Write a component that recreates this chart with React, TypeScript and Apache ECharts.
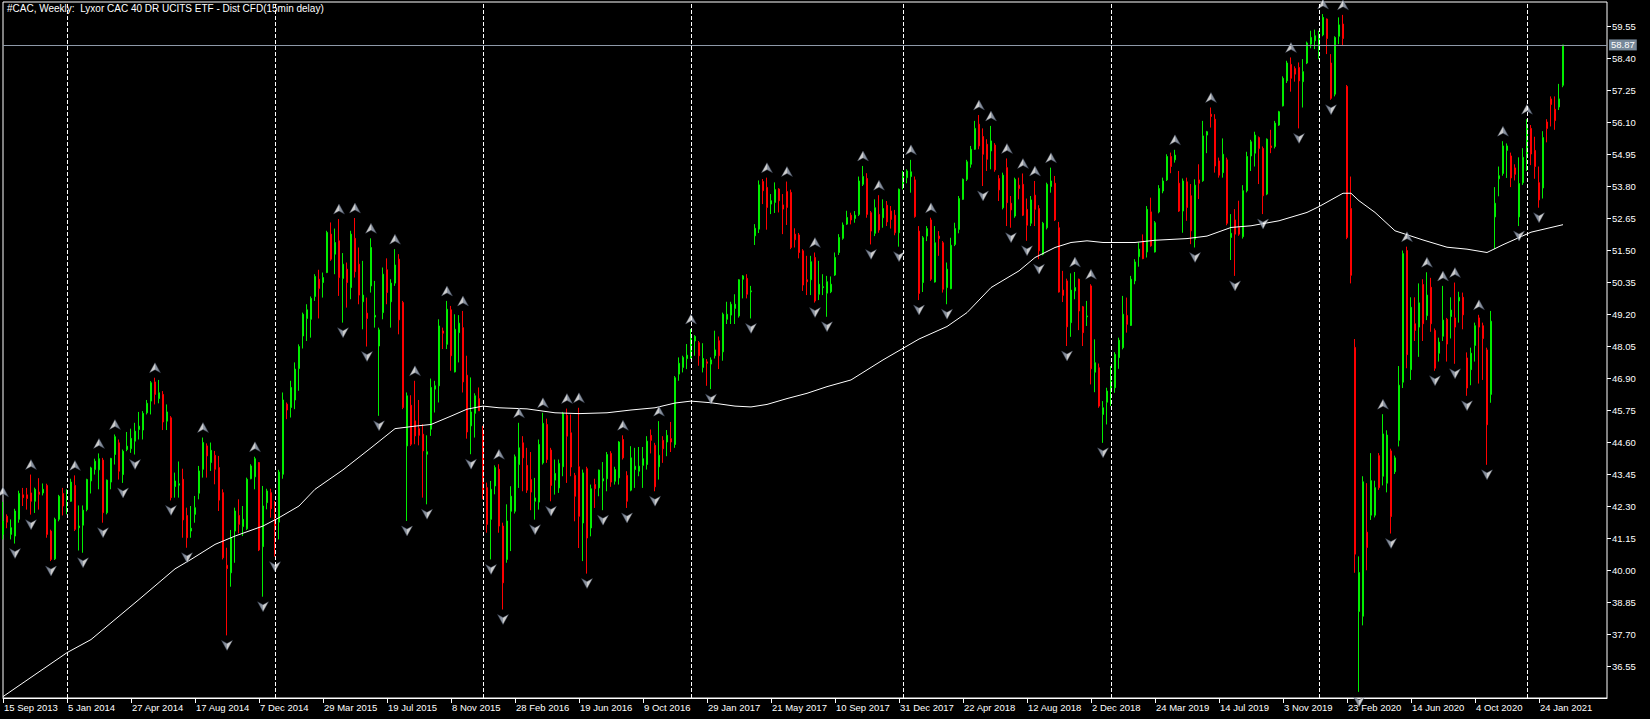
import React, { useEffect, useRef } from 'react';
import * as echarts from 'echarts';

const TITLE = '#CAC, Weekly:  Lyxor CAC 40 DR UCITS ETF - Dist CFD(15min delay)';
const FIRST_WEEK = [2013, 9, 15];
const FUTURE_WEEKS = 11;
const LABEL_EVERY = 16;
const MONTHS = ['Jan', 'Feb', 'Mar', 'Apr', 'May', 'Jun', 'Jul', 'Aug', 'Sep', 'Oct', 'Nov', 'Dec'];

const OPEN = [
  41.28, 41.93, 41.28, 41.22, 41.82, 42.7, 42.7, 42.77, 42.47, 42.8,
  42.77, 43.04, 41.4, 40.4, 41.82, 42.75, 42.3, 42.47, 43.04, 41.52,
  41.61, 42.17, 43.2, 43.61, 43.6, 43.95, 42.06, 43.16, 44.15, 44.57,
  43.43, 44.33, 44.36, 44.63, 45.05, 45.03, 45.65, 46.07, 46.76, 46.16,
  46.31, 45.35, 45.47, 43.0, 43.05, 43.26, 41.96, 41.4, 42.0, 42.76,
  43.62, 44.46, 43.86, 44.12, 43.68, 42.78, 40.17, 39.9, 41.4, 41.96,
  41.56, 41.48, 43.28, 43.35, 43.86, 40.84, 42.42, 42.78, 41.82, 41.72,
  43.44, 45.96, 45.84, 46.11, 47.24, 48.41, 49.04, 49.01, 49.83, 50.45,
  50.33, 50.69, 52.07, 51.35, 51.83, 50.48, 50.81, 50.15, 51.92, 50.99,
  49.64, 49.23, 50.21, 49.09, 48.05, 49.25, 50.79, 49.64, 50.31, 51.17,
  49.61, 44.46, 45.92, 45.36, 45.08, 44.88, 44.16, 45.06, 46.5, 46.62,
  48.59, 48.11, 49.35, 47.12, 48.53, 48.71, 47.0, 45.18, 45.63, 46.16,
  45.03, 42.96, 41.82, 43.02, 43.62, 41.58, 40.38, 42.11, 42.11, 43.79,
  44.57, 43.76, 43.25, 42.47, 42.44, 43.85, 45.23, 44.31, 43.23, 42.95,
  43.71, 45.56, 44.93, 43.4, 43.71, 41.69, 43.64, 41.51, 43.07, 42.95,
  43.2, 43.28, 44.19, 43.19, 43.31, 44.69, 43.4, 42.87, 43.61, 43.55,
  43.76, 43.79, 44.84, 44.48, 43.71, 44.66, 44.6, 44.72, 44.51, 47.04,
  47.28, 47.6, 47.64, 48.23, 48.17, 47.28, 47.48, 47.4, 47.7, 48.24,
  47.84, 49.01, 49.16, 49.4, 49.13, 50.45, 50.48, 50.0, 52.01, 52.25,
  53.96, 53.75, 53.15, 53.21, 53.69, 53.12, 53.6, 53.57, 52.07, 52.04,
  51.47, 50.43, 50.43, 51.23, 49.91, 50.15, 49.95, 50.0, 50.6, 51.41,
  51.92, 52.43, 52.75, 52.63, 52.78, 53.86, 54.07, 52.84, 52.1, 52.78,
  52.66, 53.11, 52.9, 52.75, 52.12, 53.78, 54.1, 54.14, 54.02, 52.18,
  50.33, 52.0, 52.58, 50.35, 52.0, 51.76, 50.15, 50.11, 51.7, 52.24,
  53.32, 54.04, 54.58, 55.12, 56.02, 55.58, 55.3, 55.06, 55.27, 54.07,
  53.02, 54.46, 53.18, 52.72, 53.83, 53.86, 52.96, 52.46, 53.47, 52.99,
  51.35, 52.3, 53.78, 53.9, 52.3, 50.06, 50.39, 48.89, 50.03, 50.45,
  49.46, 49.1, 50.21, 47.11, 47.27, 45.59, 46.03, 46.51, 46.55, 47.63,
  47.99, 49.15, 48.79, 50.39, 51.26, 51.83, 51.43, 52.87, 51.43, 52.87,
  53.62, 54.02, 54.86, 54.74, 53.9, 52.9, 53.95, 53.45, 51.89, 54.02,
  53.99, 55.63, 56.38, 56.2, 54.7, 54.28, 54.74, 51.95, 52.58, 52.31,
  51.98, 53.63, 54.88, 54.98, 55.54, 55.15, 53.51, 55.24, 55.22, 55.99,
  56.68, 57.58, 58.17, 58.02, 58.06, 57.55, 58.22, 58.9, 59.02, 58.84,
  59.23, 59.8, 58.22, 57.1, 59.18, 59.62, 57.38, 52.99, 48.0, 38.51,
  38.34, 41.36, 41.97, 41.97, 44.11, 43.37, 43.12, 44.28, 43.53, 44.66,
  46.75, 51.48, 47.2, 48.85, 48.73, 50.26, 49.14, 50.16, 48.61, 47.79,
  48.4, 49.01, 49.11, 49.06, 49.67, 49.8, 47.62, 47.2, 48.07, 49.06,
  48.78, 47.91, 46.31, 52.69, 54.06, 54.25, 55.08, 54.88, 54.45, 52.69,
  53.92, 54.83, 55.87, 55.08, 53.92, 53.73, 56.1, 56.93, 56.56, 56.64,
  57.42,
];

const HIGH = [
  42.45, 42.0, 41.82, 42.2, 42.85, 42.95, 42.95, 43.43, 42.96, 43.3,
  43.11, 43.1, 41.45, 41.88, 42.7, 42.95, 42.9, 43.28, 43.4, 42.32,
  42.32, 43.28, 43.71, 44.0, 44.19, 44.03, 43.25, 44.03, 44.87, 44.69,
  44.33, 44.96, 45.08, 45.29, 45.68, 45.71, 46.11, 46.79, 46.91, 46.83,
  46.43, 45.95, 45.53, 43.5, 43.9, 43.64, 42.24, 42.3, 42.66, 43.74,
  44.76, 44.55, 44.58, 44.28, 44.1, 42.9, 40.8, 41.44, 42.24, 42.54,
  42.3, 43.32, 43.8, 44.07, 43.88, 43.02, 42.92, 42.92, 42.48, 43.6,
  46.38, 46.02, 46.8, 47.46, 48.11, 49.25, 49.55, 49.83, 50.63, 50.79,
  50.69, 52.19, 52.49, 52.27, 52.61, 51.39, 51.05, 52.19, 52.65, 51.59,
  51.11, 49.79, 51.92, 50.39, 48.71, 50.87, 51.2, 50.45, 51.53, 51.35,
  49.67, 46.38, 46.28, 46.8, 46.11, 45.24, 44.84, 46.88, 46.8, 49.01,
  48.71, 49.67, 49.49, 49.19, 49.16, 49.31, 47.7, 46.92, 46.35, 46.56,
  45.18, 43.14, 43.2, 43.76, 43.8, 41.7, 42.36, 43.01, 44.15, 45.29,
  44.81, 44.39, 44.24, 43.31, 44.69, 45.65, 45.44, 44.39, 43.97, 43.97,
  45.68, 45.8, 45.59, 43.49, 45.83, 43.61, 43.71, 43.07, 43.28, 43.61,
  43.88, 44.24, 44.27, 43.71, 44.63, 44.84, 43.55, 44.45, 44.39, 44.42,
  44.42, 44.81, 45.05, 44.57, 45.35, 44.81, 45.03, 45.32, 46.97, 47.64,
  47.7, 48.12, 48.66, 48.44, 48.23, 48.15, 47.58, 47.64, 48.6, 48.39,
  49.25, 49.64, 49.64, 49.91, 50.45, 50.6, 50.63, 50.21, 52.43, 54.0,
  54.05, 54.1, 53.51, 53.93, 53.72, 53.51, 53.96, 53.67, 52.28, 52.11,
  51.53, 51.29, 51.29, 51.41, 51.11, 50.63, 50.57, 50.55, 51.41, 52.07,
  52.49, 52.91, 52.84, 52.9, 54.14, 54.52, 54.26, 52.9, 53.32, 53.47,
  53.32, 53.26, 53.08, 52.94, 53.71, 54.34, 54.4, 54.74, 54.14, 52.36,
  52.0, 52.36, 52.66, 52.36, 52.18, 51.82, 51.05, 51.94, 52.48, 53.44,
  54.07, 54.74, 55.24, 56.14, 56.35, 55.87, 55.48, 55.96, 55.34, 54.19,
  54.28, 54.79, 53.44, 54.1, 54.1, 54.25, 53.35, 53.44, 53.98, 53.11,
  52.51, 53.92, 54.46, 54.16, 52.51, 50.75, 50.47, 50.66, 50.71, 50.47,
  49.49, 49.67, 50.27, 48.29, 47.42, 46.07, 46.55, 47.33, 47.83, 48.35,
  49.85, 49.79, 50.57, 51.17, 51.77, 52.06, 53.08, 53.38, 52.54, 53.83,
  54.1, 54.94, 55.0, 55.1, 54.34, 54.07, 54.1, 53.87, 54.04, 54.58,
  56.14, 55.78, 56.62, 56.38, 54.82, 55.51, 54.82, 52.79, 52.97, 53.27,
  53.83, 55.03, 55.46, 55.75, 55.58, 55.22, 55.51, 55.82, 56.14, 56.5,
  57.74, 58.3, 58.42, 58.1, 58.24, 58.36, 58.99, 59.38, 59.42, 59.38,
  59.98, 59.82, 58.54, 59.18, 59.86, 59.95, 57.43, 54.14, 48.3, 40.49,
  43.37, 43.12, 44.2, 43.21, 44.2, 45.6, 45.02, 44.36, 44.11, 47.33,
  51.48, 51.62, 49.8, 49.8, 50.3, 50.45, 50.7, 50.5, 48.68, 48.35,
  50.21, 49.06, 49.8, 50.33, 50.0, 49.97, 47.82, 47.99, 48.89, 49.17,
  48.89, 47.99, 49.31, 53.76, 54.5, 55.41, 55.33, 55.0, 54.58, 54.83,
  55.16, 56.2, 55.99, 55.57, 54.5, 55.77, 56.2, 57.02, 57.02, 57.47,
  58.87,
];

const LOW = [
  41.1, 41.5, 41.1, 40.95, 41.7, 42.3, 42.17, 41.99, 42.05, 42.17,
  42.68, 41.16, 40.32, 40.36, 41.75, 41.96, 42.0, 42.45, 41.4, 40.7,
  40.62, 42.11, 42.75, 43.43, 42.9, 41.7, 42.0, 42.9, 43.79, 43.25,
  43.13, 44.27, 44.21, 44.15, 44.69, 44.69, 45.59, 45.59, 45.95, 45.99,
  45.03, 45.03, 42.5, 42.6, 42.6, 41.16, 40.8, 41.16, 41.7, 42.54,
  43.32, 43.32, 43.56, 43.08, 42.12, 40.38, 37.65, 39.4, 40.26, 41.32,
  41.22, 41.44, 43.26, 42.9, 40.68, 39.04, 42.18, 41.88, 40.48, 41.1,
  43.28, 45.42, 45.48, 45.78, 46.44, 47.96, 48.23, 48.35, 49.67, 49.04,
  49.79, 50.67, 51.11, 50.63, 49.85, 48.89, 49.43, 49.73, 50.51, 49.55,
  48.65, 48.03, 49.97, 48.71, 45.54, 49.01, 49.55, 48.71, 50.21, 48.47,
  45.78, 41.76, 44.46, 44.52, 44.48, 42.6, 42.36, 44.82, 45.66, 46.02,
  47.94, 47.94, 47.16, 47.1, 47.46, 46.38, 44.72, 44.16, 44.76, 45.72,
  42.54, 41.34, 40.38, 42.72, 41.34, 38.58, 40.26, 40.68, 42.03, 42.95,
  42.83, 42.77, 42.15, 41.81, 42.17, 43.79, 43.85, 42.47, 42.71, 42.77,
  43.37, 43.13, 43.37, 41.75, 40.79, 40.32, 39.87, 41.21, 42.23, 42.65,
  42.15, 42.83, 42.99, 43.07, 43.07, 43.97, 42.23, 42.83, 42.95, 43.37,
  42.95, 43.61, 44.19, 42.83, 43.25, 43.85, 44.09, 44.24, 44.39, 46.8,
  47.1, 47.22, 47.58, 47.7, 47.34, 47.1, 46.62, 46.5, 47.6, 47.22,
  47.52, 48.84, 48.84, 48.84, 49.07, 49.76, 49.76, 49.04, 51.68, 52.11,
  53.15, 52.23, 52.79, 52.83, 52.85, 52.07, 52.4, 51.53, 51.59, 51.2,
  50.03, 49.88, 49.88, 49.61, 49.7, 49.88, 49.1, 49.95, 50.57, 51.32,
  51.87, 52.4, 52.42, 52.48, 52.72, 53.8, 52.66, 51.7, 52.0, 52.12,
  52.3, 52.36, 52.27, 52.03, 51.62, 53.68, 53.9, 53.56, 52.66, 49.7,
  49.99, 51.82, 50.39, 50.33, 51.29, 49.97, 49.55, 50.09, 51.64, 52.1,
  53.3, 53.98, 54.46, 55.1, 55.12, 53.8, 54.34, 54.4, 54.31, 53.26,
  52.96, 52.36, 52.3, 52.66, 53.32, 52.72, 51.83, 52.36, 52.36, 51.17,
  51.31, 52.24, 53.56, 52.54, 49.97, 49.63, 48.05, 48.38, 49.73, 48.62,
  48.05, 48.77, 46.67, 46.39, 45.83, 44.57, 45.23, 45.89, 46.37, 47.23,
  47.93, 48.53, 48.77, 50.27, 50.9, 51.17, 51.23, 51.62, 51.41, 52.82,
  53.54, 53.98, 54.26, 54.64, 52.87, 52.12, 52.55, 51.71, 51.59, 53.33,
  53.95, 54.98, 55.9, 54.28, 54.1, 54.1, 52.39, 51.14, 50.57, 52.01,
  51.91, 53.57, 54.34, 54.5, 53.87, 52.79, 53.47, 54.98, 55.15, 55.96,
  56.66, 57.5, 57.19, 57.55, 55.87, 56.62, 58.18, 58.75, 58.72, 58.36,
  59.18, 58.54, 56.9, 57.02, 58.9, 58.84, 51.89, 50.3, 39.9, 35.62,
  38.01, 39.99, 41.8, 41.89, 42.88, 43.04, 42.79, 41.31, 43.45, 44.44,
  46.54, 47.25, 46.83, 48.23, 47.66, 48.23, 48.98, 48.56, 47.16, 47.49,
  48.23, 47.49, 48.32, 47.41, 48.89, 48.65, 46.26, 46.64, 47.49, 46.7,
  46.83, 43.78, 46.01, 51.53, 53.43, 54.17, 54.09, 53.76, 54.0, 52.36,
  53.84, 54.34, 54.55, 54.06, 53.02, 53.35, 55.37, 55.94, 55.82, 56.53,
  57.35,
];

const CLOSE = [
  41.76, 41.72, 41.52, 42.12, 42.75, 42.6, 42.57, 42.47, 42.9, 42.72,
  42.9, 41.28, 40.38, 41.82, 42.65, 42.3, 42.4, 43.16, 41.46, 41.58,
  42.15, 43.25, 43.67, 43.91, 44.0, 42.06, 43.23, 44.01, 44.79, 43.55,
  44.27, 44.45, 44.73, 44.99, 45.17, 45.63, 45.99, 46.73, 46.31, 46.37,
  45.32, 45.68, 42.6, 43.2, 43.1, 41.8, 41.16, 41.5, 42.24, 43.56,
  44.58, 44.1, 44.3, 43.62, 42.51, 40.44, 40.05, 41.16, 42.12, 41.64,
  41.82, 43.26, 43.74, 44.0, 40.72, 42.3, 42.84, 42.2, 41.44, 43.52,
  46.11, 45.75, 46.56, 47.22, 48.03, 49.19, 49.35, 49.76, 50.55, 50.12,
  50.51, 52.13, 51.17, 51.77, 50.51, 50.99, 50.33, 52.07, 50.72, 49.88,
  49.88, 49.04, 51.59, 49.15, 48.63, 50.63, 49.97, 50.31, 50.96, 48.99,
  45.84, 46.26, 44.52, 44.82, 44.84, 44.28, 44.25, 46.56, 46.62, 48.77,
  48.51, 49.37, 47.7, 48.65, 48.87, 46.76, 44.96, 45.68, 46.26, 45.72,
  42.84, 41.64, 42.9, 43.68, 41.58, 39.54, 41.76, 42.65, 44.07, 44.39,
  44.03, 42.87, 42.8, 42.59, 44.51, 45.27, 43.97, 43.04, 43.47, 43.83,
  45.63, 44.81, 43.7, 42.65, 41.93, 43.49, 41.15, 42.92, 42.92, 43.59,
  43.28, 44.15, 43.16, 43.61, 44.6, 44.03, 42.47, 44.03, 43.73, 43.73,
  44.0, 44.63, 44.66, 42.99, 44.12, 44.36, 44.84, 44.6, 46.91, 47.43,
  47.64, 47.72, 48.32, 48.39, 47.7, 47.6, 47.43, 47.55, 47.91, 47.7,
  49.19, 49.19, 49.55, 49.55, 50.43, 50.57, 49.91, 50.03, 52.28, 53.84,
  53.63, 53.03, 53.27, 53.67, 53.27, 52.97, 53.03, 51.59, 51.87, 51.41,
  50.24, 50.36, 51.08, 49.67, 50.27, 50.18, 50.36, 50.27, 51.23, 51.95,
  52.4, 52.67, 52.58, 52.75, 53.98, 54.14, 52.78, 52.18, 53.02, 52.22,
  52.99, 52.51, 52.6, 52.12, 53.68, 54.14, 54.34, 54.31, 52.7, 49.94,
  51.94, 52.27, 50.45, 51.76, 51.91, 50.09, 50.81, 51.67, 52.27, 53.35,
  54.04, 54.67, 55.12, 55.87, 55.24, 54.94, 54.76, 55.42, 54.38, 53.66,
  54.19, 53.2, 52.94, 54.04, 53.71, 52.75, 52.39, 53.3, 52.96, 51.47,
  52.46, 53.86, 53.98, 52.58, 49.99, 49.87, 48.74, 50.06, 50.15, 49.31,
  48.53, 49.13, 47.23, 47.45, 45.89, 45.83, 46.43, 46.79, 47.75, 48.26,
  49.19, 48.83, 50.45, 51.07, 51.53, 51.19, 52.96, 51.65, 52.48, 53.71,
  53.98, 54.86, 54.5, 54.91, 52.9, 53.98, 53.03, 52.19, 53.83, 53.9,
  55.6, 55.75, 56.3, 54.52, 54.19, 54.94, 52.46, 52.1, 52.07, 52.07,
  53.63, 54.86, 55.39, 55.63, 55.15, 53.45, 55.48, 55.18, 56.06, 56.47,
  57.67, 58.22, 57.67, 57.82, 57.58, 57.91, 58.94, 59.14, 59.2, 59.26,
  59.86, 59.1, 56.95, 59.14, 59.59, 59.1, 51.95, 50.59, 40.57, 39.91,
  43.17, 40.81, 43.21, 42.96, 42.96, 44.89, 44.85, 41.92, 44.03, 46.64,
  51.37, 47.74, 49.44, 48.61, 49.6, 48.85, 49.88, 48.85, 47.25, 48.19,
  48.98, 48.12, 49.34, 48.73, 49.8, 49.17, 46.54, 47.79, 48.78, 48.73,
  48.32, 45.22, 48.94, 53.18, 54.17, 55.24, 55.24, 54.09, 54.22, 53.89,
  54.83, 55.99, 54.95, 54.5, 53.3, 55.54, 55.87, 56.73, 56.15, 56.93,
  58.87,
];

// bars carrying an up / down fractal arrow
const UP_FRACTALS = [0, 7, 18, 24, 28, 38, 50, 63, 84, 88, 92, 98, 103, 111, 115, 124, 129, 135, 141, 144, 155, 164, 172, 191, 196, 203, 215, 219, 227, 232, 244, 247, 251, 255, 258, 262, 268, 272, 293, 302, 322, 330, 335, 345, 351, 356, 360, 363, 369, 375, 381];
const DOWN_FRACTALS = [3, 7, 12, 20, 25, 30, 33, 42, 46, 56, 65, 68, 85, 91, 94, 101, 106, 117, 122, 125, 133, 137, 146, 150, 156, 163, 177, 187, 203, 206, 217, 224, 229, 236, 245, 252, 256, 259, 266, 275, 298, 308, 315, 324, 332, 339, 347, 358, 363, 366, 371, 379, 384];

// moving average, read at sampled bars
const MA_BARS = [0, 16, 22, 34, 43, 47, 53, 58, 65, 69, 74, 78, 85, 92, 98, 103, 107, 112, 116, 120, 124, 131, 138, 144, 151, 157, 163, 168, 172, 177, 183, 187, 191, 196, 201, 206, 212, 220, 229, 236, 241, 247, 254, 258, 263, 267, 271, 275, 283, 288, 296, 301, 307, 312, 319, 326, 329, 335, 337, 339, 343, 348, 355, 361, 366, 371, 375, 382, 390];
const MA_VALUES = [35.45, 37.03, 37.5, 38.94, 40.04, 40.38, 40.92, 41.22, 41.58, 41.88, 42.3, 42.9, 43.6, 44.39, 45.08, 45.17, 45.23, 45.53, 45.78, 45.89, 45.83, 45.79, 45.65, 45.62, 45.65, 45.75, 45.83, 46.0, 46.07, 46.01, 45.89, 45.86, 45.95, 46.16, 46.35, 46.59, 46.83, 47.55, 48.3, 48.75, 49.25, 50.15, 50.75, 51.23, 51.59, 51.77, 51.83, 51.77, 51.77, 51.85, 51.91, 52.0, 52.31, 52.37, 52.55, 52.85, 53.06, 53.54, 53.54, 53.27, 52.85, 52.19, 51.86, 51.6, 51.53, 51.41, 51.69, 52.14, 52.41];

const PRICE_MIN = 35.4;
const PRICE_MAX = 60.4125;
const PRICE_LABEL_BASE = 36.55;
const PRICE_LABEL_STEP = 1.15;

const GREEN = '#00ee00';
const RED = '#ff0000';
const FONT = 'Liberation Sans';

function buildOption() {
  const nBars = Math.min(OPEN.length, HIGH.length, LOW.length, CLOSE.length);
  const nCats = nBars + FUTURE_WEEKS;
  const start = Date.UTC(FIRST_WEEK[0], FIRST_WEEK[1] - 1, FIRST_WEEK[2]);
  const dates = Array.from({ length: nCats }, (_, i) => new Date(start + i * 7 * 86400000));
  const cats = dates.map((d) => `${d.getUTCDate()} ${MONTHS[d.getUTCMonth()]} ${d.getUTCFullYear()}`);

  const separators: number[] = [];
  for (let i = 1; i < nBars; i++) {
    if (dates[i].getUTCFullYear() !== dates[i - 1].getUTCFullYear()) separators.push(i);
  }

  const candles = [];
  for (let i = 0; i < nBars; i++) {
    const o = OPEN[i], c = CLOSE[i];
    candles.push([o, c, Math.min(LOW[i], o, c), Math.max(HIGH[i], o, c)]);
  }

  const ma: (number | null)[] = new Array(nCats).fill(null);
  MA_BARS.forEach((b, j) => { ma[b] = MA_VALUES[j]; });

  const showDate = (i: number) => i % LABEL_EVERY === 0 && i < nBars;

  // label axis works in hundredths so that all tick values are exact integers
  const stepC = Math.round(PRICE_LABEL_STEP * 100);
  const baseC = Math.round(PRICE_LABEL_BASE * 100);
  const shift = (stepC - (baseC % stepC)) % stepC;
  const minC = Math.round(PRICE_MIN * 100) + shift;
  const maxC = PRICE_MAX * 100 + shift;

  const last = CLOSE[nBars - 1];

  const upArrow = 'path://M5,0 L10,10 L5,7 L0,10 Z';
  const downArrow = 'path://M0,0 L5,3 L10,0 L5,10 Z';

  return {
    animation: false,
    backgroundColor: '#000000',
    textStyle: { fontFamily: FONT },
    grid: {
      left: 3, right: 43, top: 2, bottom: 21,
      show: true, borderColor: '#ffffff', borderWidth: 1, backgroundColor: '#000000',
    },
    xAxis: {
      type: 'category',
      data: cats,
      boundaryGap: false,
      axisLine: { show: true, lineStyle: { color: '#ffffff', width: 1 } },
      axisTick: { show: true, interval: (i: number) => showDate(i), length: 5, lineStyle: { color: '#ffffff' } },
      axisLabel: {
        interval: (i: number) => showDate(i),
        color: '#ffffff', fontSize: 9.5, fontFamily: FONT,
        align: 'left', margin: 4, padding: [0, 0, 0, 1],
      },
      splitLine: { show: false },
    },
    yAxis: [
      { type: 'value', min: PRICE_MIN, max: PRICE_MAX, show: false, splitLine: { show: false } },
      {
        type: 'value', position: 'right', min: minC, max: maxC, interval: stepC,
        axisLine: { show: false },
        axisTick: { show: true, length: 4, lineStyle: { color: '#ffffff' } },
        axisLabel: {
          color: '#ffffff', fontSize: 9.5, fontFamily: FONT, margin: 5,
          showMinLabel: false, showMaxLabel: false,
          formatter: (v: number) => ((v - shift) / 100).toFixed(2),
        },
        splitLine: { show: false },
      },
    ],
    graphic: [
      {
        type: 'text', left: 7, top: 3, z: 100,
        style: { text: TITLE, fill: '#ffffff', fontSize: 10, fontFamily: FONT },
      },
    ],
    series: [
      {
        type: 'candlestick',
        xAxisIndex: 0, yAxisIndex: 0,
        data: candles,
        barWidth: 2,
        z: 2,
        itemStyle: { color: GREEN, color0: RED, borderColor: GREEN, borderColor0: RED, borderWidth: 1 },
        markLine: {
          silent: true,
          symbol: ['none', 'none'],
          animation: false,
          label: { show: false },
          data: [
            ...separators.map((i) => ({
              xAxis: cats[i],
              lineStyle: { color: '#ffffff', type: [4, 2], width: 1 },
              label: { show: false },
            })),
            {
              yAxis: last,
              lineStyle: { color: '#8e99a8', type: 'solid', width: 1 },
              label: {
                show: true, position: 'end', distance: 2,
                formatter: () => last.toFixed(2),
                backgroundColor: '#778899', color: '#ffffff',
                fontSize: 9.5, fontFamily: FONT, padding: [1, 2, 0, 2],
              },
            },
          ],
        },
      },
      {
        type: 'line',
        data: ma,
        connectNulls: true,
        showSymbol: false,
        symbol: 'none',
        z: 3,
        lineStyle: { color: '#ffffff', width: 1 },
        silent: true,
      },
      {
        type: 'scatter',
        data: UP_FRACTALS.filter((i) => i < nBars).map((i) => [cats[i], HIGH[i]]),
        symbol: upArrow,
        symbolSize: [11, 10],
        symbolOffset: [0, -10],
        z: 4,
        silent: true,
        itemStyle: {
          borderColor: '#3c4658', borderWidth: 0.5,
          color: {
            type: 'linear', x: 0, y: 0, x2: 1, y2: 0,
            colorStops: [
              { offset: 0, color: '#ffffff' },
              { offset: 0.5, color: '#ffffff' },
              { offset: 0.52, color: '#b9c2d0' },
              { offset: 1, color: '#8590a4' },
            ],
          },
        },
      },
      {
        type: 'scatter',
        data: DOWN_FRACTALS.filter((i) => i < nBars).map((i) => [cats[i], LOW[i]]),
        symbol: downArrow,
        symbolSize: [11, 10],
        symbolOffset: [0, 10],
        z: 4,
        silent: true,
        itemStyle: {
          borderColor: '#3c4658', borderWidth: 0.5,
          color: {
            type: 'linear', x: 0, y: 0, x2: 1, y2: 0,
            colorStops: [
              { offset: 0, color: '#8590a4' },
              { offset: 0.48, color: '#b9c2d0' },
              { offset: 0.5, color: '#ffffff' },
              { offset: 1, color: '#ffffff' },
            ],
          },
        },
      },
    ],
  };
}

export default function App() {
  const ref = useRef<HTMLDivElement>(null);
  useEffect(() => {
    if (!ref.current) return;
    const chart = echarts.init(ref.current, null, { renderer: 'svg' });
    chart.setOption(buildOption() as any);
    return () => chart.dispose();
  }, []);
  return (
    <div
      ref={ref}
      style={{ position: 'fixed', left: 0, top: 0, width: 1650, height: 719, background: '#000000' }}
    />
  );
}
